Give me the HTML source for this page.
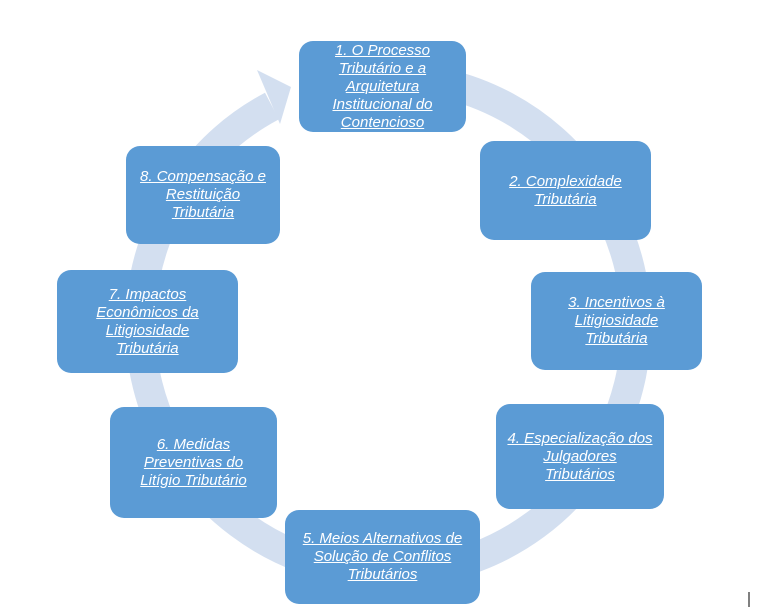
<!DOCTYPE html>
<html><head><meta charset="utf-8"><style>
body{margin:0;width:762px;height:611px;background:#fff;position:relative;overflow:hidden;font-family:"Liberation Sans",sans-serif;}
.b{position:absolute;background:#5b9bd5;border-radius:14px;display:flex;align-items:center;justify-content:center;text-align:center;color:#fff;font-style:italic;font-size:15px;line-height:18px;box-sizing:border-box;padding:0 4px;}
.b span{text-decoration:underline;}
</style></head><body>
<svg width="762" height="611" style="position:absolute;left:0;top:0">
<path d="M 330 84 A 248 248 0 1 1 272 106" fill="none" stroke="#d3dff0" stroke-width="30"/>
<polygon points="257,70 291,87 280,124" fill="#d3dff0"/>
<line x1="749" y1="592" x2="749" y2="607" stroke="#000" stroke-width="1"/>
</svg>
<div class="b" style="left:299px;top:41px;width:167px;height:91px"><span>1. O Processo<br>Tributário e a<br>Arquitetura<br>Institucional do<br>Contencioso</span></div>
<div class="b" style="left:480px;top:141px;width:171px;height:99px"><span>2. Complexidade<br>Tributária</span></div>
<div class="b" style="left:531px;top:272px;width:171px;height:98px"><span>3. Incentivos à<br>Litigiosidade<br>Tributária</span></div>
<div class="b" style="left:496px;top:404px;width:168px;height:105px"><span>4. Especialização dos<br>Julgadores<br>Tributários</span></div>
<div class="b" style="left:285px;top:510px;width:195px;height:94px"><span>5. Meios Alternativos de<br>Solução de Conflitos<br>Tributários</span></div>
<div class="b" style="left:110px;top:407px;width:167px;height:111px"><span>6. Medidas<br>Preventivas do<br>Litígio Tributário</span></div>
<div class="b" style="left:57px;top:270px;width:181px;height:103px"><span>7. Impactos<br>Econômicos da<br>Litigiosidade<br>Tributária</span></div>
<div class="b" style="left:126px;top:146px;width:154px;height:98px"><span>8. Compensação e<br>Restituição<br>Tributária</span></div>
</body></html>
